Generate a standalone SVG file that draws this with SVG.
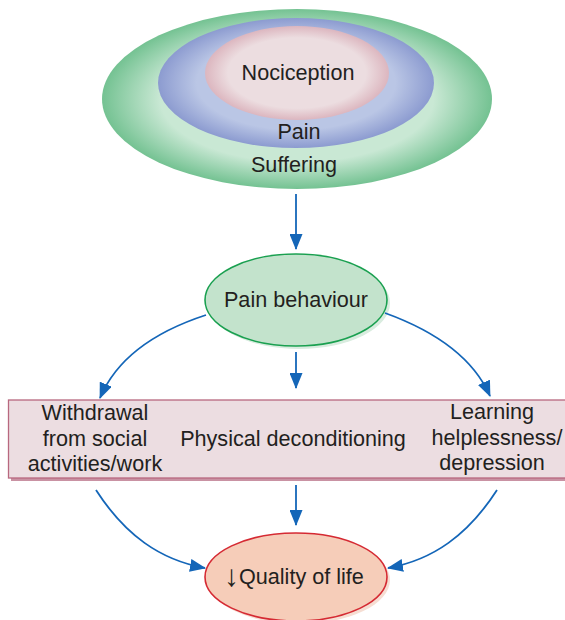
<svg xmlns="http://www.w3.org/2000/svg" width="565" height="620" viewBox="0 0 565 620">
<defs>
<style>
text{font-family:"Liberation Sans",Arial,sans-serif;font-size:21.6px;fill:#231f20;text-anchor:middle}
.conn{fill:none;stroke:#1466b8;stroke-width:1.8}
</style>
<radialGradient id="gGreen" cx="50%" cy="50%" r="50%">
<stop offset="0.7" stop-color="#c9e8d4"/><stop offset="1" stop-color="#74c292"/>
</radialGradient>
<radialGradient id="gBlue" cx="50%" cy="50%" r="50%">
<stop offset="0.72" stop-color="#bac6e5"/><stop offset="1" stop-color="#8c9bd0"/>
</radialGradient>
<radialGradient id="gPink" cx="50%" cy="50%" r="50%">
<stop offset="0.75" stop-color="#ecdde0"/><stop offset="1" stop-color="#dcb6bf"/>
</radialGradient>
<marker id="arr" viewBox="0 0 16 13" refX="15" refY="6.5" markerWidth="16" markerHeight="13" markerUnits="userSpaceOnUse" orient="auto">
<path d="M0,0 L16,6.5 L0,13 z" fill="#1466b8"/>
</marker>
</defs>
<g id="layers">
<ellipse cx="297" cy="99" rx="195" ry="90" fill="url(#gGreen)"/>
<ellipse cx="296" cy="83" rx="138" ry="65" fill="url(#gBlue)"/>
<ellipse cx="297" cy="73" rx="92" ry="47" fill="url(#gPink)"/>
<text x="298" y="80">Nociception</text>
<text x="299" y="139">Pain</text>
<text x="294" y="172">Suffering</text>
</g>
<g id="pain-behaviour">
<ellipse cx="299" cy="303" rx="91" ry="46" fill="#d9ecdf"/>
<ellipse cx="296" cy="300" rx="91" ry="46" fill="#c3e3cc" stroke="#1aa050" stroke-width="1.6"/>
<text x="296" y="307">Pain behaviour</text>
</g>
<g id="consequences">
<rect x="11" y="403" width="560" height="78" fill="#c992a3"/>
<rect x="8.5" y="400" width="560" height="78" fill="#ecdde1" stroke="#b8687f" stroke-width="1.3"/>
<text x="95" y="420">Withdrawal</text>
<text x="95" y="446">from social</text>
<text x="95" y="471">activities/work</text>
<text x="293" y="446">Physical deconditioning</text>
<text x="492" y="419">Learning</text>
<text x="497" y="445">helplessness/</text>
<text x="492" y="470">depression</text>
</g>
<g id="quality-of-life">
<ellipse cx="299" cy="580" rx="91" ry="44" fill="#f6ded3"/>
<ellipse cx="296" cy="577" rx="91" ry="44" fill="#f6cdb9" stroke="#d52a33" stroke-width="1.6"/>
<text x="224" y="584" style="text-anchor:start"><tspan style="font-size:30px" dy="2">↓</tspan><tspan dy="-2">Quality of life</tspan></text>
</g>
<g id="connectors">
<path class="conn" d="M296,194 L296,249" marker-end="url(#arr)"/>
<path class="conn" d="M206,315 C160,330 118,355 100,398" marker-end="url(#arr)"/>
<path class="conn" d="M296,352 L296,388" marker-end="url(#arr)"/>
<path class="conn" d="M385,313 C432,330 472,355 490,396" marker-end="url(#arr)"/>
<path class="conn" d="M96,490 C125,535 160,560 205,568" marker-end="url(#arr)"/>
<path class="conn" d="M296,485 L296,525" marker-end="url(#arr)"/>
<path class="conn" d="M497,490 C468,535 433,560 388,568" marker-end="url(#arr)"/>
</g>
</svg>
